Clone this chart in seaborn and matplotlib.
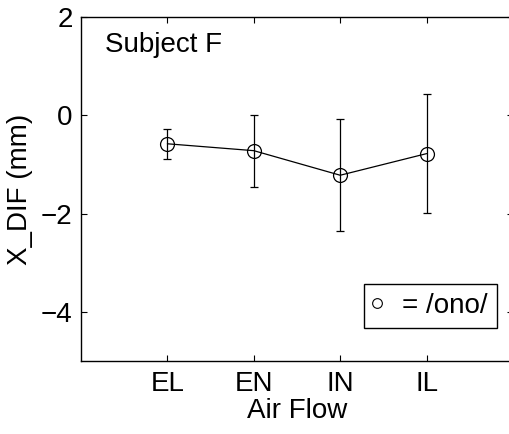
import matplotlib
matplotlib.use("Agg")
import matplotlib.pyplot as plt
from matplotlib.lines import Line2D
import seaborn as sns
import pandas as pd

categories = ["EL", "EN", "IN", "IL"]
means = [-0.58, -0.72, -1.22, -0.78]
sds = [0.30, 0.73, 1.14, 1.21]
yticks = [2, 0, -2, -4]

sns.set_theme(style="ticks")
plt.rcParams["font.family"] = ["Liberation Sans", "DejaVu Sans"]
plt.rcParams["xtick.direction"] = "in"
plt.rcParams["ytick.direction"] = "in"
plt.rcParams["text.color"] = "black"
plt.rcParams["axes.labelcolor"] = "black"
plt.rcParams["xtick.color"] = "black"
plt.rcParams["ytick.color"] = "black"

df = pd.DataFrame({"flow": categories, "xdif": means, "sd": sds})

fig = plt.figure(figsize=(5.10, 4.34), dpi=100)
ax = fig.add_axes([81 / 510, 1 - 361 / 434, 432 / 510, 344 / 434])

sns.lineplot(data=df, x="flow", y="xdif", ax=ax, color="black", lw=0.9,
             marker="o", markersize=10, markerfacecolor="none",
             markeredgecolor="black", markeredgewidth=0.9, sort=False)
ax.errorbar(df["flow"], df["xdif"], yerr=df["sd"], fmt="none",
            ecolor="black", elinewidth=0.9, capsize=3, capthick=0.9)

ax.set_xlim(-1, 4)
ax.set_ylim(-5, 2)
ax.set_yticks(yticks)
ax.set_xlabel("Air Flow", fontsize=20, labelpad=1)
ax.set_ylabel("X_DIF (mm)", fontsize=20, labelpad=6)
ax.tick_params(axis="both", labelsize=20, length=4, width=0.8,
               top=True, right=True, colors="black")
ax.tick_params(axis="x", pad=7)
ax.tick_params(axis="y", pad=6)
for s in ax.spines.values():
    s.set_visible(True)
    s.set_color("black")
    s.set_linewidth(1.0)

ax.text((105 - 81) / 432, (361 - 52) / 344, "Subject F", transform=ax.transAxes,
        fontsize=20, va="baseline", ha="left")

handle = Line2D([], [], marker="o", linestyle="none", markersize=7,
                markerfacecolor="none", markeredgecolor="black",
                markeredgewidth=0.8)
leg = ax.legend([handle], ["= /ono/"], loc="upper left",
                bbox_to_anchor=((364 - 81) / 432, (361 - 284) / 344),
                fontsize=20, frameon=True, fancybox=False, framealpha=1,
                edgecolor="black", handlelength=0.3, handletextpad=0.75,
                borderpad=0.32, borderaxespad=0)
leg.get_frame().set_linewidth(1.0)

fig.savefig("out.png", dpi=100)
